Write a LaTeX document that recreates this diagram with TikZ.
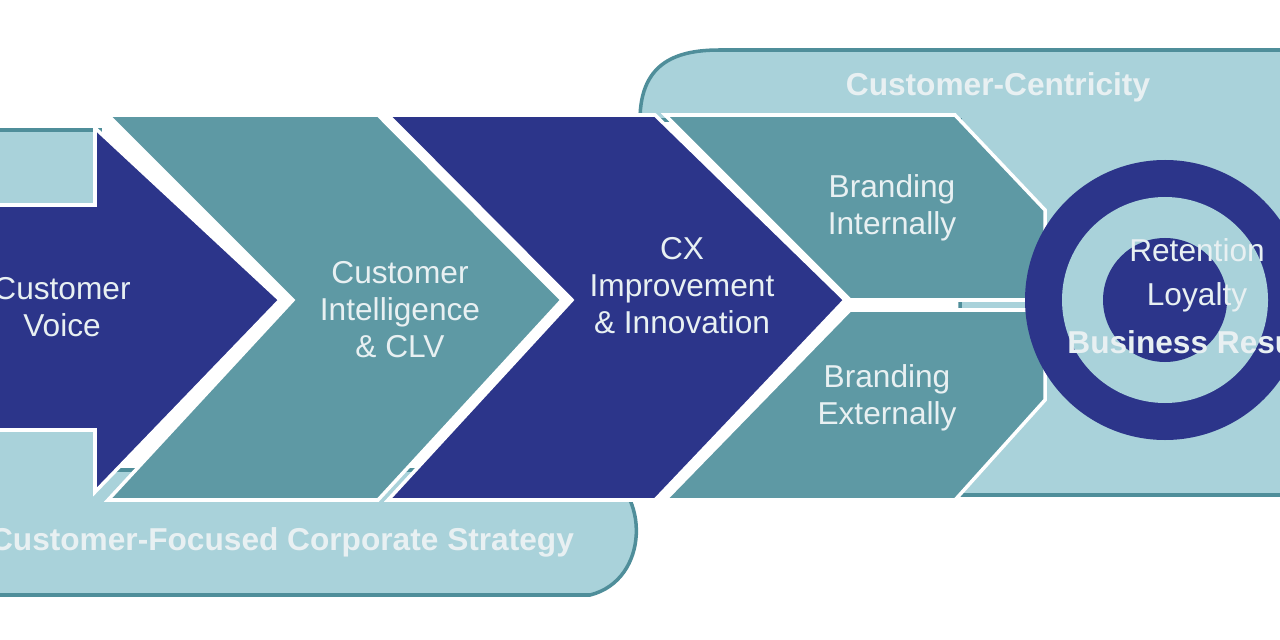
\documentclass[tikz,border=0pt]{standalone}
\usepackage{fontspec}
\setmainfont{Liberation Sans}
\usepackage{tikz}
\definecolor{navy}{HTML}{2C358A}
\definecolor{teal}{HTML}{5E99A4}
\definecolor{band}{HTML}{A9D2DA}
\definecolor{bandedge}{HTML}{4F8E9A}
\definecolor{txt}{HTML}{E8F0F2}

\begin{document}
\begin{tikzpicture}[x=0.01cm,y=-0.01cm,
    navybox/.style={fill=navy,draw=white,line width=1pt},
    tealbox/.style={fill=teal,draw=white,line width=1pt},
    bandshape/.style={fill=band,draw=bandedge,line width=1pt},
    lbl/.style={text=txt,align=center,font=\fontsize{9}{10.5}\selectfont},
    bandlbl/.style={text=txt,font=\bfseries\fontsize{9}{10.5}\selectfont}]
    \useasboundingbox (0,0) rectangle (1280,640);
    \clip (0,0) rectangle (1280,640);
    % ribbons behind the arrows
    \filldraw[bandshape] (-20,130)--(100,130)--(100,470)--(600,470)
        .. controls (650,490) and (650,580) .. (590,595)--(-20,595)--cycle;
    \filldraw[bandshape] (640,120) .. controls (640,60) and (680,50) .. (720,50)
        --(1300,50)--(1300,495)--(960,495)--(960,120)--cycle;
    % arrows
    \filldraw[navybox] (-20,205)--(95,205)--(95,128)--(280,300)--(95,492)--(95,430)--(-20,430)--cycle;
    \filldraw[tealbox] (108,115)--(378,115)--(562,300)--(378,500)--(108,500)--(293,300)--cycle;
    \filldraw[navybox] (388,115)--(655,115)--(845,300)--(655,500)--(388,500)--(572,300)--cycle;
    \filldraw[tealbox] (665,115)--(955,115)--(1045,210)--(1045,300)--(850,300)--cycle;
    \filldraw[tealbox] (850,310)--(1045,310)--(1045,400)--(955,500)--(665,500)--cycle;
    % target
    \fill[navy] (1165,300) circle (140);
    \fill[band] (1165,300) circle (103);
    \fill[navy] (1165,300) circle (62);
    % labels
    \node[lbl] (voice) at (62,307) {Customer\\Voice};
    \node[lbl] (clv) at (400,310) {Customer\\Intelligence\\\& CLV};
    \node[lbl] (cx) at (682,286) {CX\\Improvement\\\& Innovation};
    \node[lbl] (bint) at (892,208) {Branding\\Internally};
    \node[lbl] (bext) at (887,398) {Branding\\Externally};
    \node[lbl] (retention) at (1197,250) {Retention};
    \node[lbl] (loyalty) at (1197,297) {Loyalty};
    \node[lbl,font=\bfseries\fontsize{9}{10.5}\selectfont,anchor=west] (results) at (1055,342) {Business Results};
    \node[bandlbl] (centric) at (998,87) {Customer-Centricity};
    \node[bandlbl] (strategy) at (282,542) {Customer-Focused Corporate Strategy};
\end{tikzpicture}
\end{document}
